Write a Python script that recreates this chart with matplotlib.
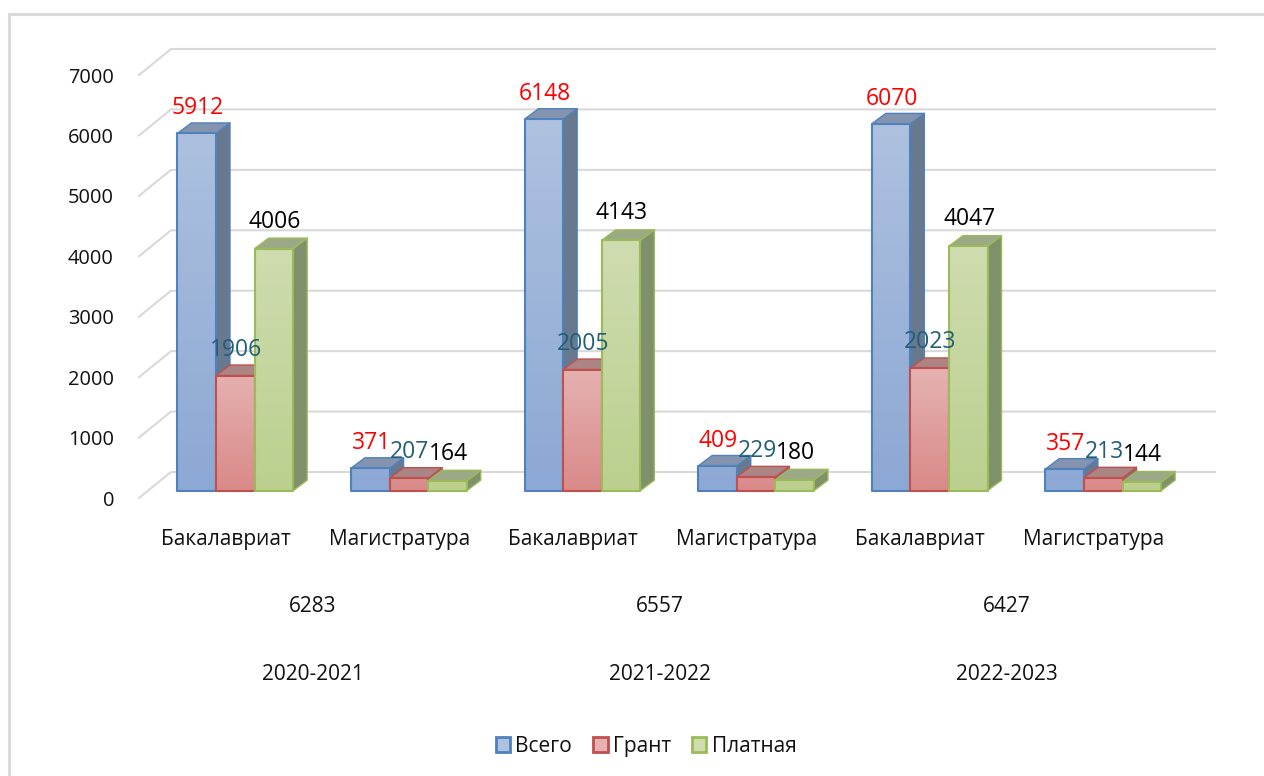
import numpy as np
import matplotlib
matplotlib.use("Agg")
import matplotlib.pyplot as plt
from matplotlib.colors import to_rgb
from matplotlib.lines import Line2D
from matplotlib.patches import Polygon, Patch

plt.rcParams['font.family'] = ['Open Sans', 'DejaVu Sans']

categories = ['Бакалавриат', 'Магистратура'] * 3
totals = ['6283', '6557', '6427']
years = ['2020-2021', '2021-2022', '2022-2023']
series_names = ['Всего', 'Грант', 'Платная']
vsego = [5912, 371, 6148, 409, 6070, 357]
grant = [1906, 207, 2005, 229, 2023, 213]
platnaya = [4006, 164, 4143, 180, 4047, 144]
yticks = [0, 1000, 2000, 3000, 4000, 5000, 6000, 7000]

W, H = 1264, 776
edge = ['#4f81bd', '#c0504d', '#9bbb59']
top_col = ['#aec1df', '#e5b2b1', '#cfdcb0']
bot_col = ['#8ca8d4', '#d98a89', '#bbd08e']
cap_col = ['#8494ae', '#ab8584', '#9ca986']
side_col = ['#68788f', '#8f6a69', '#80906a']
lab_col = ['#ff0000', '#215f76', '#000000']
lab_off = [25, 26, 27]
grid_c = '#d9d9d9'

fig = plt.figure(figsize=(W / 100, H / 100), dpi=100)
L, R, T, B = 139, 1180.5, 75, 498
ax = fig.add_axes([L / W, 1 - B / H, (R - L) / W, (B - T) / H])
ax.set_xlim(-0.5, 5.5)
ax.set_ylim(0, 7000)
ax.patch.set_alpha(0)
for s in ax.spines.values():
    s.set_visible(False)

px_x = 6 / (R - L)
px_y = 7000 / (B - T)

# back wall gridlines and the slanted wall-depth segments
wall_dx, wall_dy = 32 * px_x, 26 * px_y
end_x = 5.5 + 34.5 * px_x
for v in yticks:
    ax.plot([-0.5, -0.5 + wall_dx, end_x], [v, v + wall_dy, v + wall_dy],
            color=grid_c, lw=1.5, clip_on=False, zorder=1, solid_joinstyle='round')

ins_x, ins_y = 9.5 * px_x, 7.3 * px_y
bw = 38.6 * px_x
dep_x, dep_y = 14 * px_x, 10.5 * px_y

all_series = [vsego, grant, platnaya]
z = 3
for k, vals in enumerate(all_series):
    vmax = max(vals)
    for i, v in enumerate(vals):
        x0 = i + ins_x + (k - 1.5) * bw
        x1 = x0 + bw
        y0 = ins_y
        y1 = ins_y + v
        # side
        ax.add_patch(Polygon([(x1, y0), (x1 + dep_x, y0 + dep_y), (x1 + dep_x, y1 + dep_y), (x1, y1)],
                             closed=True, fc=side_col[k], ec=edge[k], lw=1.0, zorder=z,
                             clip_on=False, joinstyle='round'))
        # cap
        ax.add_patch(Polygon([(x0, y1), (x0 + dep_x, y1 + dep_y), (x1 + dep_x, y1 + dep_y), (x1, y1)],
                             closed=True, fc=cap_col[k], ec=edge[k], lw=1.0, zorder=z,
                             clip_on=False, joinstyle='round'))
        # front with vertical gradient
        f = v / vmax
        c_b = np.array(to_rgb(bot_col[k]))
        c_t = c_b + (np.array(to_rgb(top_col[k])) - c_b) * f
        grad = np.linspace(c_t, c_b, 32).reshape(32, 1, 3)
        ax.imshow(grad, extent=(x0, x1, y0, y1), aspect='auto', zorder=z + 0.1,
                  interpolation='bilinear', clip_on=False)
        ax.add_patch(Polygon([(x0, y0), (x1, y0), (x1, y1), (x0, y1)], closed=True, fc='none',
                             ec=edge[k], lw=1.5, zorder=z + 0.2, clip_on=False, joinstyle='round'))
    z += 1

ax.set_xlim(-0.5, 5.5)
ax.set_ylim(0, 7000)

# value labels
for k, vals in enumerate(all_series):
    for i, v in enumerate(vals):
        ax.annotate(str(v), xy=(i + ins_x + (k - 1) * bw, ins_y + v), xytext=(1, lab_off[k]),
                    textcoords='offset pixels', ha='center', va='center',
                    color=lab_col[k], fontsize=16.5, zorder=20, annotation_clip=False)

ax.set_yticks(yticks)
ax.set_yticklabels([str(v) for v in yticks], fontsize=14.4, color='#111111')
ax.tick_params(axis='y', length=0, pad=18)
ax.set_xticks(range(6))
ax.set_xticklabels(categories, fontsize=15, color='#111111')
ax.tick_params(axis='x', length=0, pad=22)

# second and third level of category labels
for j in range(3):
    xc = 2 * j + 0.5
    ax.annotate(totals[j], xy=(xc, 0), xytext=(0, 498 - 607), textcoords='offset pixels',
                ha='center', va='center', fontsize=15, color='#111111', annotation_clip=False)
    ax.annotate(years[j], xy=(xc, 0), xytext=(0, 498 - 675), textcoords='offset pixels',
                ha='center', va='center', fontsize=15, color='#111111', annotation_clip=False)

# legend
handles = [Patch(fc=top_col[k], ec=edge[k], lw=2.0, label=series_names[k]) for k in range(3)]
fig.legend(handles=handles, loc='center', bbox_to_anchor=(646 / W, 1 - 746.5 / H), ncol=3, frameon=False,
           fontsize=15, handlelength=0.7, handleheight=0.7, handletextpad=0.25,
           columnspacing=1.0, labelcolor='#111111')

# outer frame: left and top only
fig.add_artist(Line2D([9 / W, 9 / W, 1], [0, 1 - 14 / H, 1 - 14 / H], color=grid_c, lw=2.2,
                      transform=fig.transFigure))

fig.savefig('out.png', dpi=100, facecolor='white')
